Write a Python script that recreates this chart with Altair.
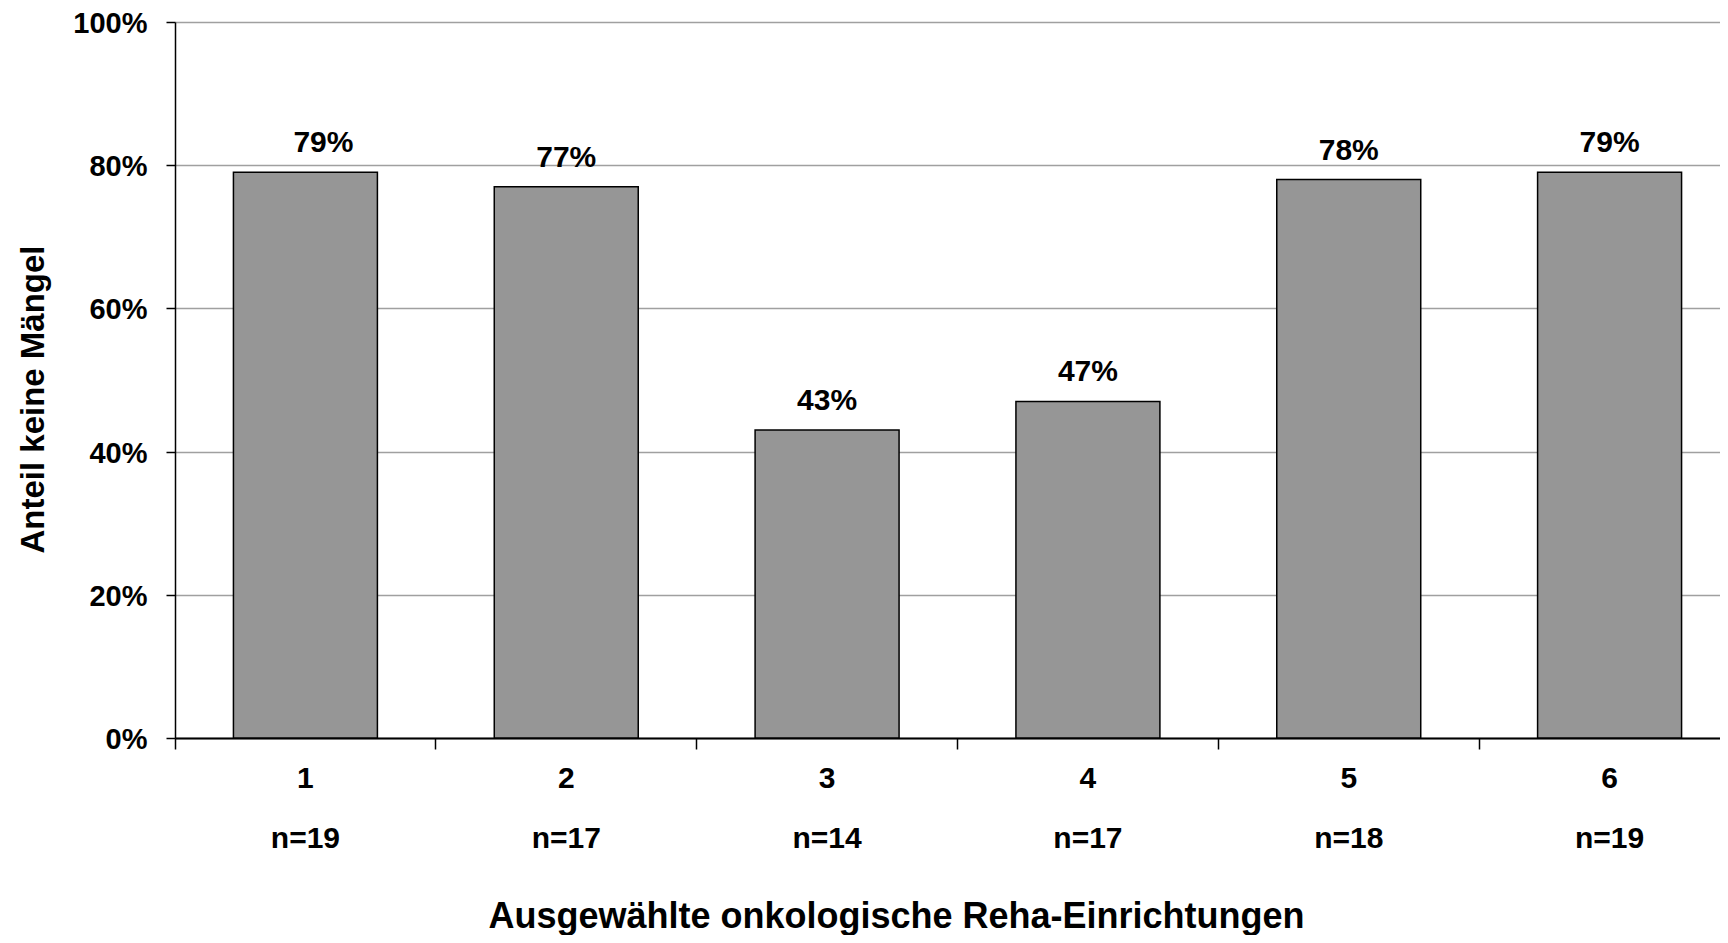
import altair as alt
import pandas as pd

categories = ["1", "2", "3", "4", "5", "6"]
n_values = [19, 17, 14, 17, 18, 19]
shares = [0.79, 0.77, 0.43, 0.47, 0.78, 0.79]

df = pd.DataFrame({
    "cat": categories,
    "n": n_values,
    "value": shares,
})
df["label"] = [f"{c}|n={n}" for c, n in zip(categories, n_values)]

FONT = "Liberation Sans"

x_scale = alt.Scale(range=[0, 1565], paddingInner=0, paddingOuter=0)

y_enc = alt.Y(
    "value:Q",
    scale=alt.Scale(domain=[0, 1], nice=False),
    axis=alt.Axis(
        values=[0, 0.2, 0.4, 0.6, 0.8, 1.0],
        format=".0%",
        grid=True,
        gridColor="#a0a0a0",
        gridWidth=1.5,
        domainColor="black",
        domainWidth=1.5,
        tickColor="black",
        tickSize=9,
        tickWidth=1.5,
        labelFont=FONT,
        labelFontSize=29,
        labelFontWeight="bold",
        labelColor="black",
        labelPadding=19,
        labelBaseline="middle",
        labelOffset=1.5,
        title="Anteil keine Mängel",
        titleFont=FONT,
        titleFontSize=33,
        titleFontWeight="bold",
        titleColor="black",
        titleX=-142,
        titleY=377,
        titleBaseline="middle",
    ),
)

bars = alt.Chart(df).mark_bar(
    width=alt.RelativeBandSize(0.552),
    color="#969696",
    stroke="black",
    strokeWidth=1.5,
).encode(
    x=alt.X(
        "label:N",
        sort=None,
        scale=x_scale,
        axis=alt.Axis(
            orient="bottom",
            labelAngle=0,
            labelExpr="split(datum.label, '|')",
            labelFont=FONT,
            labelFontSize=30,
            labelFontWeight="bold",
            labelColor="black",
            labelLineHeight=60,
            labelPadding=14,
            ticks=True,
            tickSize=11,
            tickOpacity=0,
            domain=True,
            domainColor="black",
            domainWidth=2,
            grid=False,
            title="Ausgewählte onkologische Reha-Einrichtungen",
            titleFont=FONT,
            titleFontSize=36,
            titleFontWeight="bold",
            titleColor="black",
            titleX=721,
            titleY=189,
            titleBaseline="alphabetic",
        ),
    ),
    y=y_enc,
)

labels_rest = alt.Chart(df).transform_filter("datum.cat != '1'").mark_text(
    baseline="alphabetic",
    dy=-20,
    font=FONT,
    fontSize=30,
    fontWeight="bold",
    color="black",
).encode(
    x=alt.X(
        "label:N",
        sort=None,
        scale=x_scale,
        axis=alt.Axis(
            orient="bottom",
            bandPosition=0,
            labels=False,
            domain=False,
            ticks=True,
            tickSize=11,
            tickColor="black",
            tickWidth=1.5,
            grid=False,
            title=None,
        ),
    ),
    y=y_enc,
    text=alt.Text("value:Q", format=".0%"),
)

label_first = alt.Chart(df).transform_filter("datum.cat == '1'").mark_text(
    baseline="alphabetic",
    dy=-20,
    dx=18,
    font=FONT,
    fontSize=30,
    fontWeight="bold",
    color="black",
).encode(
    x=alt.X("label:N", sort=None, scale=x_scale, axis=None),
    y=y_enc,
    text=alt.Text("value:Q", format=".0%"),
)

chart = alt.layer(bars, labels_rest, label_first).resolve_axis(
    x="independent"
).properties(
    width=1545,
    height=716,
    autosize=alt.AutoSizeParams(type="none"),
    padding={"left": 167, "top": 14, "right": 0, "bottom": 197},
    background="white",
).configure_view(stroke=None)

chart.save("out.html", embed_options={"renderer": "svg", "actions": False})
